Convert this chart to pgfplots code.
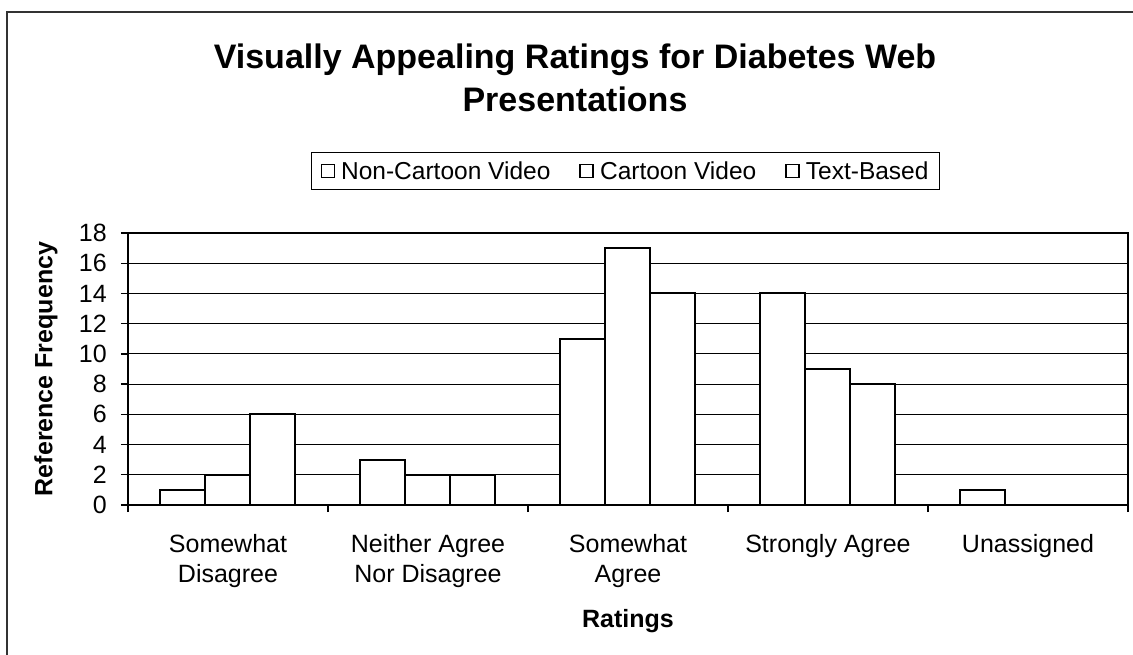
\documentclass[border=0pt]{standalone}
\usepackage{fontspec}
\setmainfont{Liberation Sans}
\usepackage{pgfplots}
\pgfplotsset{compat=1.18}
\newcommand\tickfont{\fontsize{25bp}{30.5bp}\selectfont}
\newcommand\legfont{\fontsize{24.5bp}{29bp}\selectfont}
\newcommand\labfont{\fontsize{25bp}{30bp}\selectfont\bfseries}
\newcommand\titfont{\fontsize{34bp}{43bp}\selectfont\bfseries}
\begin{document}
\begin{tikzpicture}
\useasboundingbox (0bp,0bp) rectangle (1133bp,655bp);
\draw[line width=1.3bp, black!80] (7bp,-30bp) rectangle (1180bp,643bp);
\begin{axis}[
  at={(128bp,150bp)}, anchor=south west,
  scale only axis, width=1000bp, height=272bp,
  xmin=0.5, xmax=5.5, ymin=0, ymax=18,
  ybar=0pt, bar width=45bp,
  axis line style={black, line width=1.6bp},
  tick style={black, line width=1.4bp},
  major tick length=7bp,
  tick align=outside,
  tick pos=left,
  ytick={0,2,...,18},
  ymajorgrids, grid style={black, line width=1.2bp},
  xtick={0.5,1.5,...,5.5}, xticklabels={},
  extra x ticks={1,2,3,4,5},
  extra x tick labels={Somewhat\\Disagree, Neither Agree\\Nor Disagree, Somewhat\\Agree, Strongly Agree, Unassigned},
  extra x tick style={major tick length=0pt, grid=none},
  x tick label style={font=\tickfont, align=center, inner sep=0pt, yshift=-29bp},
  y tick label style={font=\tickfont, inner sep=0pt, xshift=-14bp},
  /pgf/number format/assume math mode=true,
  xlabel={Ratings},
  xlabel style={at={(axis description cs:0.5,-0.452)}, anchor=base, font=\labfont, inner sep=0pt},
  ylabel={Reference Frequency},
  ylabel style={at={(axis description cs:-0.082,0.5)}, anchor=center, font=\labfont, inner sep=0pt},
  title={Visually Appealing Ratings for Diabetes Web\\Presentations},
  title style={at={(0.447,1.674)}, anchor=north, align=center, font=\titfont, inner sep=0pt},
  legend columns=3,
  legend style={at={(0.4975,1.228)}, anchor=center, draw=black, line width=1.3bp, font=\legfont, inner xsep=9bp, inner ysep=7bp, /tikz/every even column/.append style={column sep=27bp}},
  legend image code/.code={\draw[black, line width=1.3bp, fill=white] (0bp,-6.5bp) rectangle (13bp,6.5bp); \path (17bp,0bp);},
  cycle list={{draw=black,fill=white,line width=2bp},{draw=black,fill=white,line width=2bp},{draw=black,fill=white,line width=2bp}},
]
\addplot coordinates {(1,1) (2,3) (3,11) (4,14) (5,1)};
\addplot coordinates {(1,2) (2,2) (3,17) (4,9) (5,0)};
\addplot coordinates {(1,6) (2,2) (3,14) (4,8) (5,0)};
\legend{Non-Cartoon Video, Cartoon Video, Text-Based}
\end{axis}
\end{tikzpicture}
\end{document}
